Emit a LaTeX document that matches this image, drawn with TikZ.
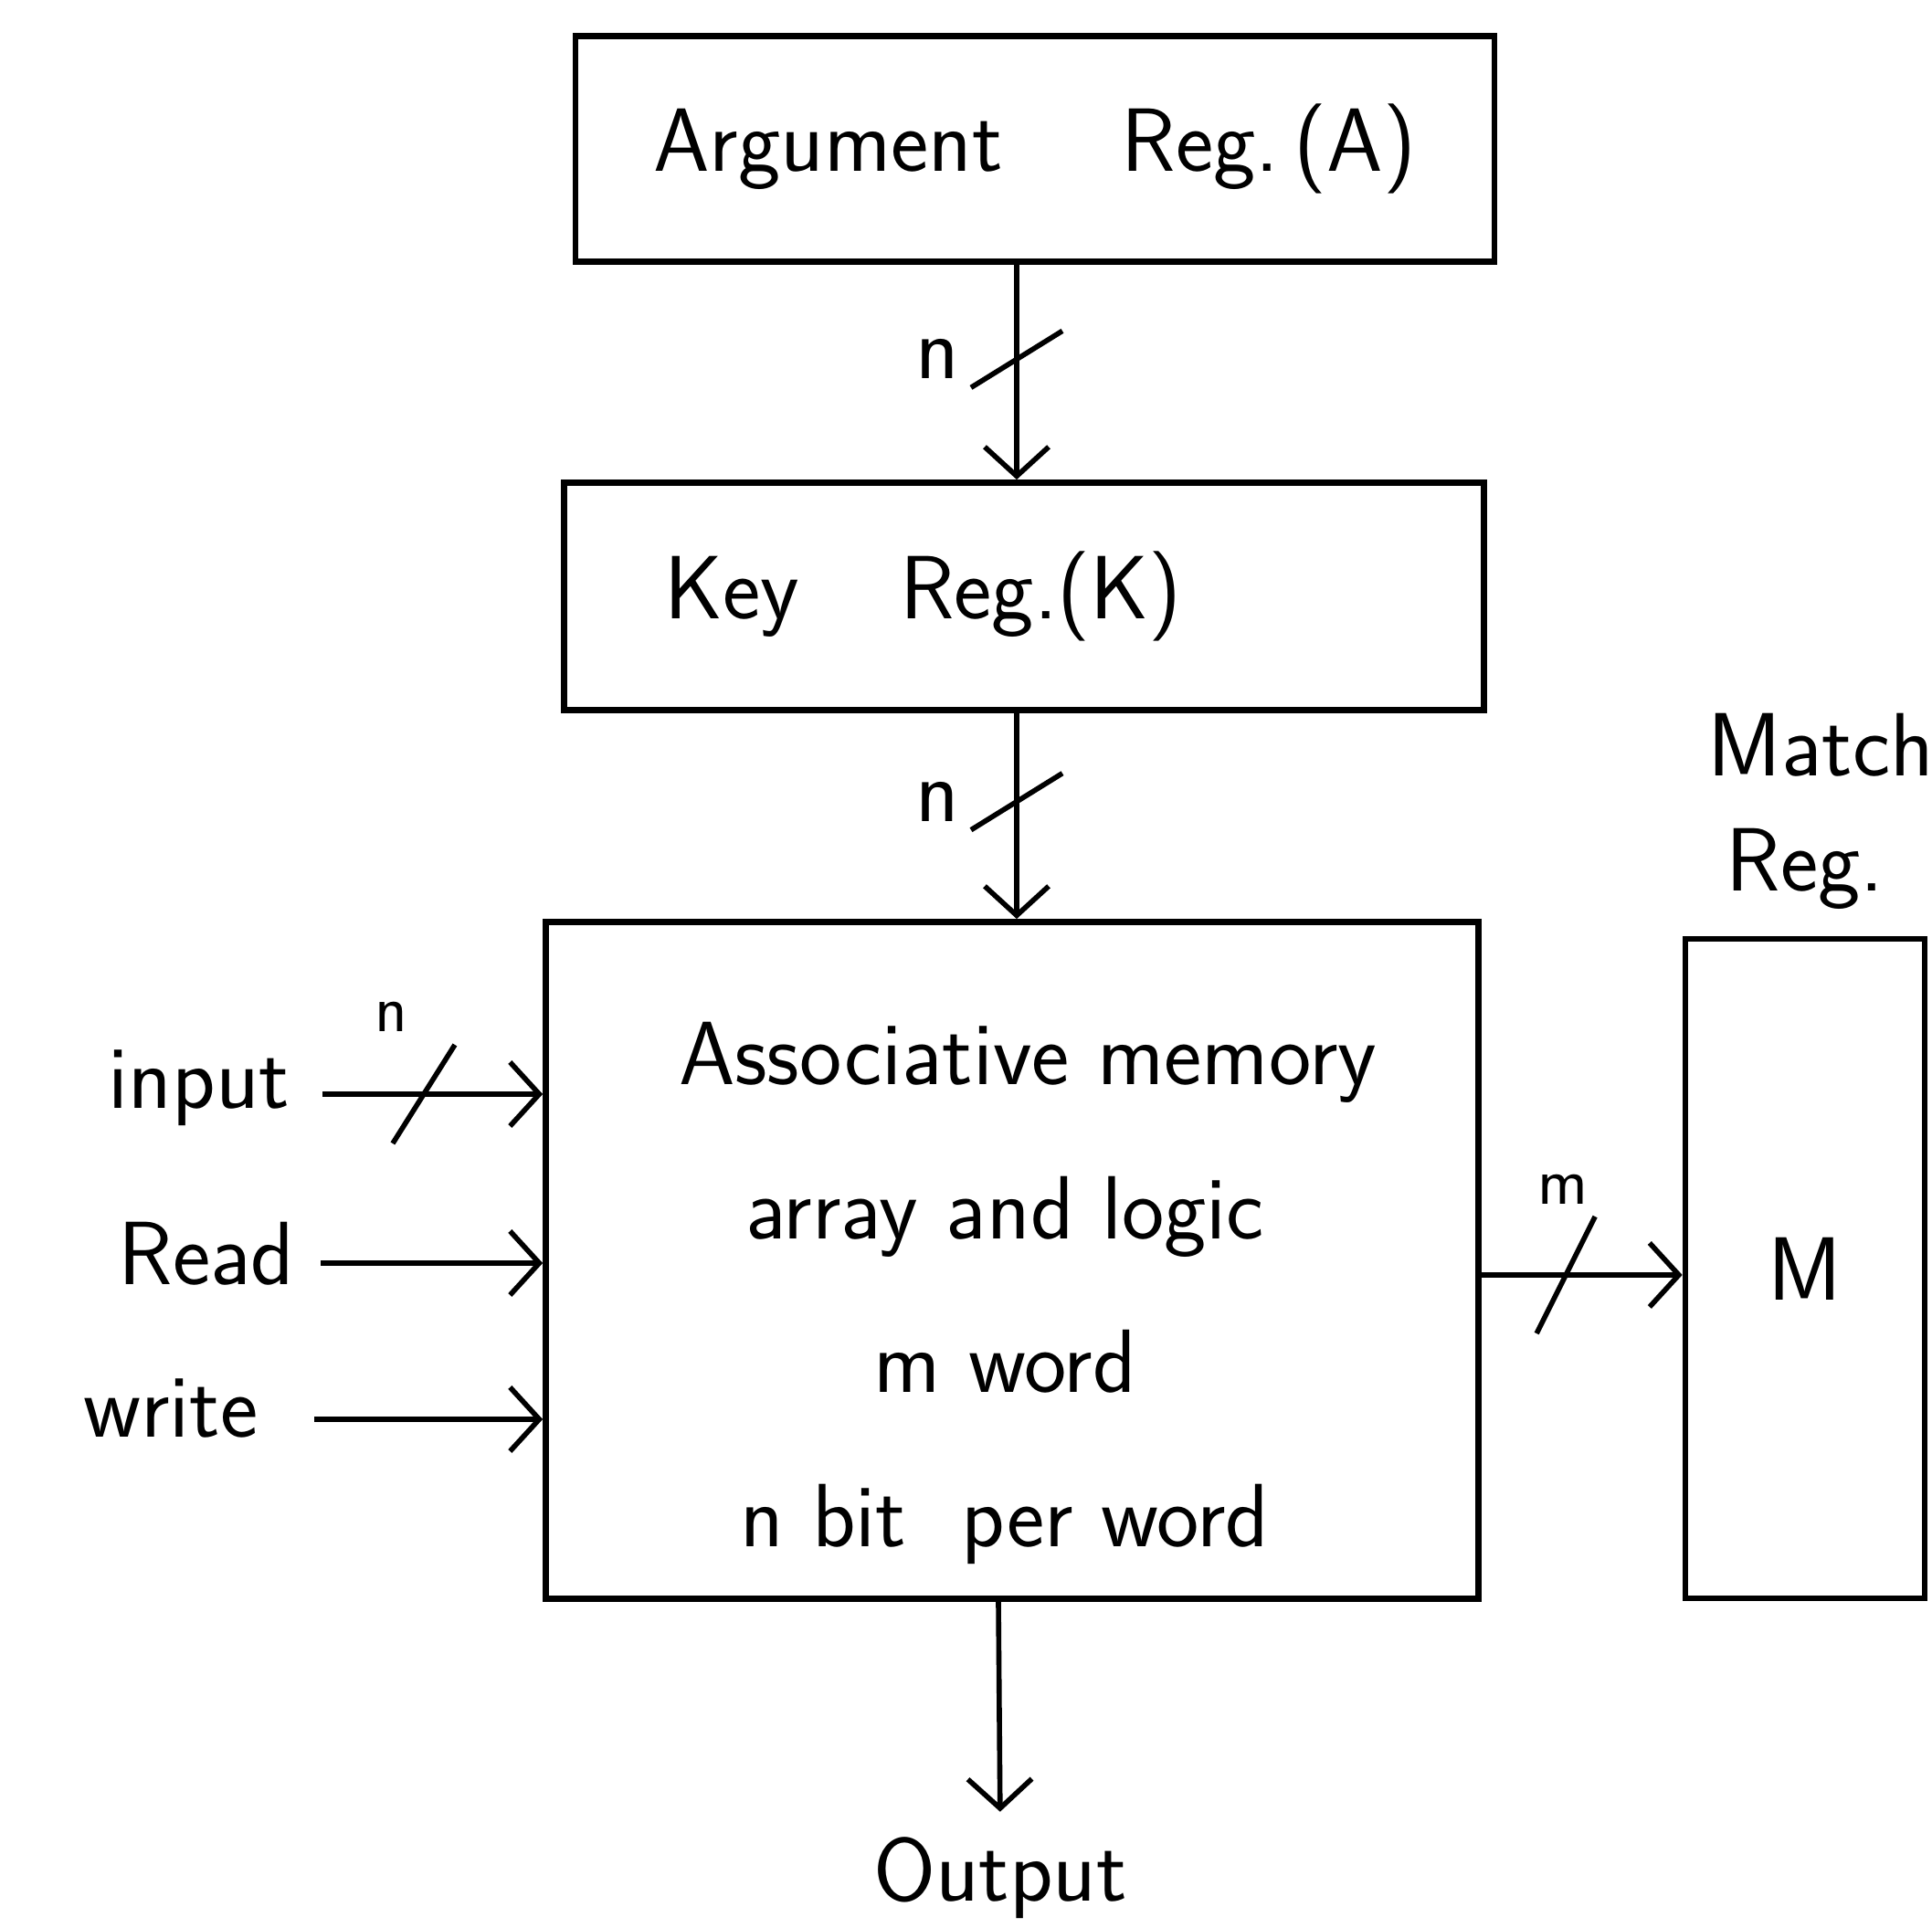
\documentclass[tikz,border=0pt]{standalone}
\usetikzlibrary{positioning,arrows.meta}
\tikzset{
  regbox/.style={draw,line width=1.9pt,inner sep=0pt,font=\fontsize{28}{34}\selectfont\sffamily},
  lbl/.style={font=\fontsize{28}{34}\selectfont\sffamily,inner sep=2pt},
  smalllbl/.style={font=\fontsize{21}{25}\selectfont\sffamily,inner sep=1pt},
  bus/.style={line width=1.6pt,-{Straight Barb[length=0.32cm,width=0.7cm]}},
  slash/.style={line width=1.6pt}
}
\begin{document}
\begin{tikzpicture}
\useasboundingbox[fill=white] (0,0) rectangle (21.15,21.11);
% registers
\node[regbox,minimum width=10.06cm,minimum height=2.47cm] (argreg) at (11.33,19.48) {Argument\hspace{1.3cm}Reg.\,(A)};
\node[regbox,minimum width=10.07cm,minimum height=2.49cm,text width=7.87cm,align=left,inner xsep=1.1cm] (keyreg) at (11.21,14.58) {Key\hspace{1.1cm}Reg.(K)};
\node[regbox,minimum width=10.21cm,minimum height=7.41cm] (assoc) at (11.08,7.31) {};
\node[lbl,align=center,font=\fontsize{28}{48}\selectfont\sffamily] (assoctext) at (11.0,6.95) {\hspace*{0.5cm}Associative memory\\array and logic\\m word\\n bit\hspace{0.6cm}per word};
\node[regbox,minimum width=2.62cm,minimum height=7.22cm] (matchreg) at (19.76,7.22) {M};
\node[lbl,anchor=west] (matchlbl) at (18.62,12.95) {Match};
\node[lbl,anchor=west] (reglbl) at (18.82,11.60) {Reg.};
% n-bit buses from the registers
\draw[bus] ([xshift=-2mm]argreg.south) -- coordinate[pos=0.44] (s1) ([xshift=-0.8mm]keyreg.north);
\draw[slash] ([shift={(-0.5,-0.31)}]s1) -- ([shift={(0.5,0.31)}]s1);
\node[lbl,left=0.55cm of s1] (n1) {n};
\draw[bus] ([xshift=-0.8mm]keyreg.south) -- coordinate[pos=0.43] (s2) ([xshift=0.5mm]assoc.north);
\draw[slash] ([shift={(-0.5,-0.31)}]s2) -- ([shift={(0.5,0.31)}]s2);
\node[lbl,left=0.55cm of s2] (n2) {n};
% inputs
\node[lbl,anchor=east] (input) at (3.25,9.2) {input};
\coordinate (in0) at ([shift={(0.28,-0.07)}]input.east);
\draw[bus] (in0) -- coordinate[pos=0.46] (s3) (in0 -| assoc.west);
\draw[slash] ([shift={(-0.34,-0.54)}]s3) -- ([shift={(0.34,0.54)}]s3);
\node[smalllbl] (n3) at ([shift={(-0.36,0.85)}]s3) {n};
\node[lbl,anchor=east] (read) at (3.3,7.38) {Read};
\coordinate (rd0) at ([shift={(0.21,-0.1)}]read.east);
\draw[bus] (rd0) -- (rd0 -| assoc.west);
\node[lbl,anchor=east] (write) at (2.9,5.69) {write};
\coordinate (wr0) at ([shift={(0.54,-0.12)}]write.east);
\draw[bus] (wr0) -- (wr0 -| assoc.west);
% match lines
\draw[bus] ([yshift=-0.16cm]assoc.east) -- coordinate[pos=0.42] (s4) ([yshift=-0.16cm]assoc.east -| matchreg.west);
\draw[slash] ([shift={(-0.32,-0.64)}]s4) -- ([shift={(0.32,0.64)}]s4);
\node[smalllbl] (m1) at ([shift={(-0.03,0.94)}]s4) {m};
% output
\node[lbl] (output) at (10.95,0.55) {Output};
\draw[bus,shorten >=0.2cm] ([xshift=-1.5mm]assoc.south) -- (output.north);
\end{tikzpicture}
\end{document}
